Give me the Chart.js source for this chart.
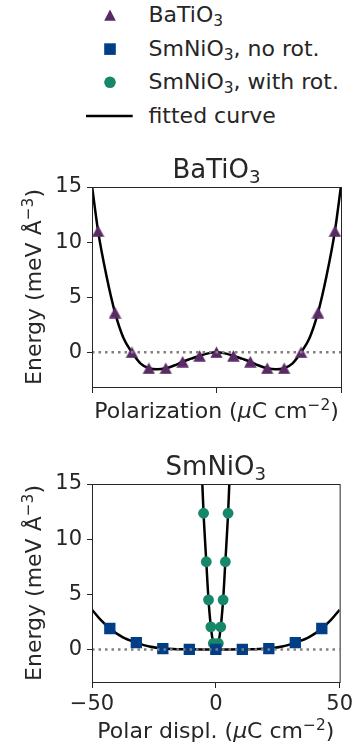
<!DOCTYPE html>
<html>
<head>
<meta charset="utf-8">
<script src="https://cdn.jsdelivr.net/npm/chart.js@4.4.0/dist/chart.umd.min.js"></script>
<style>
  body { margin: 0; background: #fff; font-family: "DejaVu Sans", sans-serif; color: #262626; }
  #page { position: relative; width: 357px; height: 754px; overflow: hidden; }
  .leg { position: absolute; left: 84px; width: 273px; height: 26px; line-height: 26px; font-size: 22px; white-space: nowrap; }
  .leg svg { position: absolute; left: 0; top: 0; }
  .leg .txt { position: absolute; left: 64.5px; top: 0; }
  sub { font-size: 0.7em; vertical-align: -0.26em; line-height: 0; }
  .box { position: absolute; left: 0; }
</style>
</head>
<body>
<div id="page">
  <div class="leg" style="top:2.1px">
    <svg width="50" height="26"><polygon points="26,7.4 31.8,18.8 20.2,18.8" fill="#5a2a66"/></svg>
    <span class="txt">BaTiO<sub>3</sub></span>
  </div>
  <div class="leg" style="top:35.6px">
    <svg width="50" height="26"><rect x="20.2" y="7.3" width="11.6" height="11.6" fill="#003f87"/></svg>
    <span class="txt">SmNiO<sub>3</sub>, no rot.</span>
  </div>
  <div class="leg" style="top:69.2px">
    <svg width="50" height="26"><circle cx="26" cy="13.3" r="5.8" fill="#178769"/></svg>
    <span class="txt">SmNiO<sub>3</sub>, with rot.</span>
  </div>
  <div class="leg" style="top:102.7px">
    <svg width="50" height="26"><line x1="2" y1="13.1" x2="48.7" y2="13.1" stroke="#000" stroke-width="2.5"/></svg>
    <span class="txt">fitted curve</span>
  </div>

  <div class="box" style="top:150px"><canvas id="bto" width="357" height="275"></canvas></div>
  <div class="box" style="top:445px"><canvas id="sno" width="357" height="309"></canvas></div>
</div>

<script>
// BaTiO3: computed points (polarization, energy)
const btoP = [-35, -30, -25, -20, -15, -10, -5, 0, 5, 10, 15, 20, 25, 30, 35];
const btoE = [11.0, 3.6, 0.0, -1.45, -1.45, -0.85, -0.32, 0.0, -0.32, -0.85, -1.45, -1.45, 0.0, 3.6, 11.0];

// BaTiO3: fitted curve
const btoFitP = [-36.8, -35, -32.5, -30, -27.5, -25, -22.5, -20, -17.5, -15, -12.5, -10, -7.5, -5, -2.5, 0,
                 2.5, 5, 7.5, 10, 12.5, 15, 17.5, 20, 22.5, 25, 27.5, 30, 32.5, 35, 36.8];
const btoFitE = [15.1, 11.0, 6.9, 3.6, 1.3, 0.0, -1.0, -1.45, -1.55, -1.45, -1.2, -0.85, -0.58, -0.32, -0.1, 0.0,
                 -0.1, -0.32, -0.58, -0.85, -1.2, -1.45, -1.55, -1.45, -1.0, 0.0, 1.3, 3.6, 6.9, 11.0, 15.1];

// SmNiO3 without rotations
const snoP = [-42.8, -32.1, -21.4, -10.7, 0, 10.7, 21.4, 32.1, 42.8];
const snoE = [1.9, 0.62, 0.08, 0.01, 0.0, 0.01, 0.08, 0.62, 1.9];
const snoFitP = [-50, -46.4, -42.8, -37.5, -32.1, -26.8, -21.4, -16, -10.7, -5.4, 0,
                 5.4, 10.7, 16, 21.4, 26.8, 32.1, 37.5, 42.8, 46.4, 50];
const snoFitE = [3.6, 2.65, 1.9, 1.1, 0.62, 0.26, 0.08, 0.03, 0.01, 0.0, 0.0,
                 0.0, 0.01, 0.03, 0.08, 0.26, 0.62, 1.1, 1.9, 2.65, 3.6];

// SmNiO3 with rotations
const rotP = [-4.95, -3.85, -2.95, -2.0, -1.0, 1.0, 2.0, 2.95, 3.85, 4.95];
const rotE = [12.35, 7.95, 4.5, 2.05, 0.55, 0.55, 2.05, 4.5, 7.95, 12.35];
const rotFitP = [-5.5, -4.95, -3.85, -2.95, -2.0, -1.0, 0, 1.0, 2.0, 2.95, 3.85, 4.95, 5.5];
const rotFitE = [15.3, 12.35, 7.95, 4.5, 2.05, 0.55, 0.0, 0.55, 2.05, 4.5, 7.95, 12.35, 15.3];

const yTicks = [0, 5, 10, 15];
const snoXTicks = [-50, 0, 50];

// label texts, as [text, style] runs ("" normal, "it" italic, "sub", "sup")
const energyLabel = [["Energy (meV \u00c5", ""], ["\u22123", "sup"], [")", ""]];
const btoTitle = [["BaTiO", ""], ["3", "sub"]];
const snoTitle = [["SmNiO", ""], ["3", "sub"]];
const btoXLabel = [["Polarization (", ""], ["\u03bc", "it"], ["C cm", ""], ["\u22122", "sup"], [")", ""]];
const snoXLabel = [["Polar displ. (", ""], ["\u03bc", "it"], ["C cm", ""], ["\u22122", "sup"], [")", ""]];

const INK = "#262626";
const FONT = "'DejaVu Sans', sans-serif";
const C_BTO = "#5a2a66", C_SNO = "#003f87", C_ROT = "#178769";

function pts(xs, ys) {
  return xs.map(function (x, i) { return { x: x, y: ys[i] }; });
}

// matplotlib-like "^" marker, centred on its bounding box
function triangleMarker(color) {
  var c = document.createElement("canvas");
  c.width = 13; c.height = 12;
  var g = c.getContext("2d");
  g.fillStyle = color;
  g.beginPath();
  g.moveTo(6.5, 0.2); g.lineTo(12.7, 11.8); g.lineTo(0.3, 11.8);
  g.closePath(); g.fill();
  return c;
}

function runFont(kind, size) {
  var s = (kind === "sub" || kind === "sup") ? size * 0.7 : size;
  return (kind === "it" ? "italic " : "") + s + "px " + FONT;
}

// text centred on (0, baseline) after translate/rotate
function drawRich(ctx, runs, size, x, y, rotate) {
  ctx.save();
  ctx.translate(x, y);
  if (rotate) ctx.rotate(-Math.PI / 2);
  ctx.fillStyle = INK;
  ctx.textBaseline = "alphabetic";
  ctx.textAlign = "left";
  var widths = runs.map(function (r) {
    ctx.font = runFont(r[1], size);
    return ctx.measureText(r[0]).width;
  });
  var total = widths.reduce(function (a, b) { return a + b; }, 0);
  var cx = -total / 2;
  runs.forEach(function (r, i) {
    ctx.font = runFont(r[1], size);
    var dy = r[1] === "sub" ? 0.18 * size : r[1] === "sup" ? -0.36 * size : 0;
    ctx.fillText(r[0], cx, dy);
    cx += widths[i];
  });
  ctx.restore();
}

function labelsPlugin(cfg) {
  return {
    id: "labels",
    afterDraw: function (chart) {
      var a = chart.chartArea, ctx = chart.ctx;
      var mid = (a.left + a.right) / 2;
      drawRich(ctx, cfg.title, 26, mid, cfg.titleBase, false);
      drawRich(ctx, cfg.xLabel, 22, mid, cfg.xBase, false);
      drawRich(ctx, energyLabel, 22, 41, (a.top + a.bottom) / 2, true);
    }
  };
}

var framePlugin = {
  id: "frame",
  afterDatasetsDraw: function (chart) {
    var a = chart.chartArea, ctx = chart.ctx;
    ctx.save();
    ctx.strokeStyle = INK;
    ctx.lineWidth = 1;
    ctx.strokeRect(a.left + 0.5, a.top + 0.5, a.right - a.left, a.bottom - a.top);
    ctx.restore();
  }
};

function zeroLine(xmin, xmax) {
  return {
    data: [{ x: xmin, y: 0 }, { x: xmax, y: 0 }],
    borderColor: "#808080", borderWidth: 2.5, borderDash: [2.5, 4], borderCapStyle: "butt",
    pointRadius: 0, order: 0
  };
}

function fitLine(data, order) {
  return {
    data: data, borderColor: "#000", borderWidth: 2.5, pointRadius: 0,
    cubicInterpolationMode: "monotone", order: order
  };
}

function markers(data, style, radius, color, order) {
  return {
    data: data, showLine: false, pointStyle: style, pointRadius: radius,
    pointBackgroundColor: color, pointBorderWidth: 0, borderWidth: 0, order: order
  };
}

function options(o) {
  return {
    responsive: false,
    animation: false,
    layout: { padding: { left: 0, right: 16, top: o.top, bottom: 0 } },
    plugins: {
      legend: { display: false },
      tooltip: { enabled: false },
      title: { display: false }
    },
    scales: {
      x: {
        type: "linear", min: o.xmin, max: o.xmax,
        afterBuildTicks: function (s) { s.ticks = o.xTicks.map(function (v) { return { value: v }; }); },
        afterFit: function (s) { s.height = o.xHeight; },
        border: { display: false },
        grid: { drawOnChartArea: false, drawTicks: true, tickLength: 6, color: INK },
        ticks: {
          color: INK, padding: 4, maxRotation: 0, autoSkip: false,
          font: { family: FONT, size: 21 },
          callback: o.xTickLabel
        }
      },
      y: {
        min: o.ymin, max: 15,
        afterBuildTicks: function (s) { s.ticks = yTicks.map(function (v) { return { value: v }; }); },
        afterFit: function (s) { s.width = 92; },
        border: { display: false },
        grid: { drawOnChartArea: false, drawTicks: true, tickLength: 5, color: INK },
        ticks: { color: INK, padding: 5, font: { family: FONT, size: 21 } }
      }
    }
  };
}

new Chart(document.getElementById("bto"), {
  type: "line",
  data: {
    datasets: [
      zeroLine(-36.8, 36.8),
      markers(pts(btoP, btoE), triangleMarker(C_BTO), 6, C_BTO, 1),
      fitLine(pts(btoFitP, btoFitE), 2)
    ]
  },
  options: options({
    top: 37, xmin: -36.8, xmax: 36.8, xTicks: [-36.8, 0, 36.8],
    xTickLabel: function () { return ""; },
    xHeight: 38, ymin: -3.15
  }),
  plugins: [framePlugin, labelsPlugin({ title: btoTitle, titleBase: 28.3, xLabel: btoXLabel, xBase: 268.3 })]
});

new Chart(document.getElementById("sno"), {
  type: "line",
  data: {
    datasets: [
      zeroLine(-50, 50),
      markers(pts(snoP, snoE), "rect", 8, C_SNO, 1),
      markers(pts(rotP, rotE), "circle", 5.4, C_ROT, 2),
      fitLine(pts(snoFitP, snoFitE), 3),
      fitLine(pts(rotFitP, rotFitE), 4)
    ]
  },
  options: options({
    top: 39, xmin: -50, xmax: 50, xTicks: snoXTicks,
    xTickLabel: function (v) { return v < 0 ? "\u2212" + Math.abs(v) : String(v); },
    xHeight: 72, ymin: -2.95
  }),
  plugins: [framePlugin, labelsPlugin({ title: snoTitle, titleBase: 30, xLabel: snoXLabel, xBase: 293.3 })]
});
</script>
</body>
</html>
